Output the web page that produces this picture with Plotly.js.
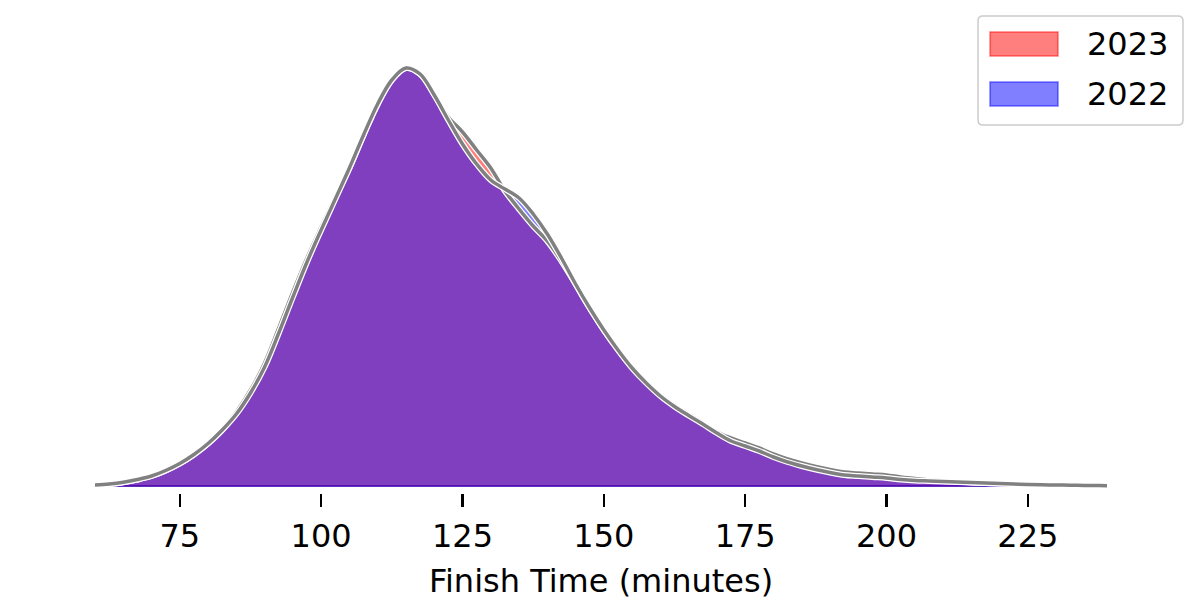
<!DOCTYPE html>
<html>
<head>
<meta charset="utf-8">
<script src="https://cdn.plot.ly/plotly-3.0.1.min.js"></script>
<style>html,body{margin:0;padding:0;background:#fff;}#chart{width:1200px;height:600px;}</style>
</head>
<body>
<div id="chart"></div>
<script>
// Finish time grid (minutes)
const finishTime = [60,62.5,65,67.5,70,72.5,75,77.5,80,82.5,85,87.5,90,92.5,95,97.5,100,102.5,105,107.5,110,112.5,115,117.5,120,122.5,125,127.5,130,132.5,135,137.5,140,142.5,145,147.5,150,152.5,155,157.5,160,162.5,165,167.5,170,172.5,175,177.5,180,182.5,185,187.5,190,192.5,195,197.5,200,202.5,205,207.5,210,212.5,215,217.5,220,222.5,225,227.5,230,232.5,235,237.5,239];

// Estimated KDE density, 2022
const density2022 = [0.0000417,0.0000833,0.000158,0.000271,0.000417,0.000646,0.000938,0.001313,0.001771,0.002333,0.003,0.003875,0.004958,0.006375,0.007875,0.009333,0.010667,0.011958,0.01325,0.014625,0.015917,0.016917,0.017417,0.017167,0.016292,0.01525,0.01425,0.013417,0.01275,0.012375,0.012,0.011333,0.0105,0.0095,0.008417,0.007417,0.0065,0.005667,0.004917,0.004292,0.00375,0.003313,0.002938,0.002583,0.002208,0.001875,0.001667,0.001458,0.001208,0.001,0.000833,0.000688,0.000563,0.000458,0.000417,0.000375,0.000333,0.000271,0.000229,0.000208,0.000188,0.000167,0.000146,0.000125,0.000104,0.0000833,0.0000625,0.00005,0.0000417,0.0000333,0.000025,0.0000167,0.0000125];

// Estimated KDE density, 2023
const density2023 = [0.0000417,0.0000833,0.000158,0.000271,0.000417,0.000646,0.000938,0.001313,0.001771,0.002333,0.003083,0.004,0.005125,0.006583,0.008083,0.0095,0.010792,0.012042,0.01325,0.014625,0.015917,0.016917,0.017417,0.017167,0.016333,0.015375,0.01475,0.014,0.01325,0.012292,0.011542,0.010833,0.010208,0.009375,0.008417,0.007417,0.0065,0.005708,0.004958,0.004333,0.003792,0.003354,0.002979,0.002625,0.00225,0.002,0.001792,0.001583,0.001333,0.001125,0.000958,0.000813,0.000688,0.000583,0.000542,0.0005,0.000458,0.000375,0.000313,0.00025,0.000208,0.000188,0.000146,0.000125,0.000104,0.0000833,0.0000625,0.00005,0.0000417,0.0000333,0.000025,0.0000167,0.0000125];

const years = ['2023', '2022'];
const tickValues = [75, 100, 125, 150, 175, 200, 225];
const xTitle = 'Finish Time (minutes)';

const FONT = 'DejaVu Sans, Liberation Sans, sans-serif';
const lineShape = {shape: 'spline', smoothing: 1};

function fillTrace(y, color) {
  return {x: finishTime, y: y, type: 'scatter', mode: 'lines', fill: 'tozeroy',
    fillcolor: color, line: Object.assign({width: 0, color: color}, lineShape),
    hoverinfo: 'skip', showlegend: false};
}
function lineTrace(y, color, width) {
  return {x: finishTime, y: y, type: 'scatter', mode: 'lines',
    line: Object.assign({width: width, color: color}, lineShape),
    hoverinfo: 'skip', showlegend: false};
}

const data = [
  fillTrace(density2023, 'rgba(255,0,0,0.5)'),
  fillTrace(density2022, 'rgba(0,0,255,0.5)'),
  lineTrace(density2023, '#ffffff', 6),
  lineTrace(density2023, '#808080', 3.5),
  lineTrace(density2022, '#ffffff', 6),
  lineTrace(density2022, '#808080', 3.5)
];

// Plot area geometry (for legend placement in paper units)
const W = 1200, H = 600, mL = 95, mR = 93, mT = 20, mB = 107;
const pw = W - mL - mR, ph = H - mT - mB;
const px = v => (v - mL) / pw;
const py = v => (H - mB - v) / ph;

function roundRect(x0, y0, x1, y1, r) {
  const rx = r / pw, ry = r / ph;
  const X0 = px(x0), X1 = px(x1), Y0 = py(y0), Y1 = py(y1);
  return `M ${X0 + rx},${Y0} L ${X1 - rx},${Y0} Q ${X1},${Y0} ${X1},${Y0 - ry} ` +
         `L ${X1},${Y1 + ry} Q ${X1},${Y1} ${X1 - rx},${Y1} L ${X0 + rx},${Y1} ` +
         `Q ${X0},${Y1} ${X0},${Y1 + ry} L ${X0},${Y0 - ry} Q ${X0},${Y0} ${X0 + rx},${Y0} Z`;
}

const legendColors = ['rgba(255,0,0,0.5)', 'rgba(0,0,255,0.5)'];
const shapes = [{
  type: 'path', xref: 'paper', yref: 'paper', path: roundRect(978, 16, 1183, 125, 5),
  fillcolor: 'rgba(255,255,255,0.8)', line: {color: '#cccccc', width: 1.5}, layer: 'above'
}];
const annotations = [];
years.forEach((yr, i) => {
  const top = 32 + i * 50;
  shapes.push({type: 'rect', xref: 'paper', yref: 'paper',
    x0: px(990), x1: px(1058), y0: py(top), y1: py(top + 24),
    fillcolor: legendColors[i], line: {color: legendColors[i], width: 1.5}, layer: 'above'});
  annotations.push({xref: 'paper', yref: 'paper', x: px(1085), y: py(top + 12),
    xanchor: 'left', yanchor: 'middle', showarrow: false, text: yr,
    font: {family: FONT, size: 32, color: '#000'}});
});

const layout = {
  width: W, height: H,
  margin: {l: mL, r: mR, t: mT, b: mB},
  paper_bgcolor: '#ffffff', plot_bgcolor: '#ffffff',
  showlegend: false,
  font: {family: FONT, size: 32, color: '#000'},
  xaxis: {
    range: [60, 239], showgrid: false, zeroline: false, showline: false,
    ticks: 'outside', ticklen: 13, tickwidth: 2.5, tickcolor: '#000',
    tickvals: tickValues, ticktext: tickValues.map(String),
    ticklabelstandoff: 2,
    tickfont: {family: FONT, size: 32, color: '#000'},
    title: {text: xTitle, font: {family: FONT, size: 32, color: '#000'}, standoff: 21},
    automargin: false, fixedrange: true
  },
  yaxis: {
    range: [-0.000292, 0.019417], showgrid: false, showline: false,
    showticklabels: false, ticks: '',
    zeroline: true, zerolinecolor: '#6030c0', zerolinewidth: 1.5,
    automargin: false, fixedrange: true
  },
  shapes: shapes,
  annotations: annotations
};

Plotly.newPlot('chart', data, layout, {staticPlot: true, displayModeBar: false});
</script>
</body>
</html>
